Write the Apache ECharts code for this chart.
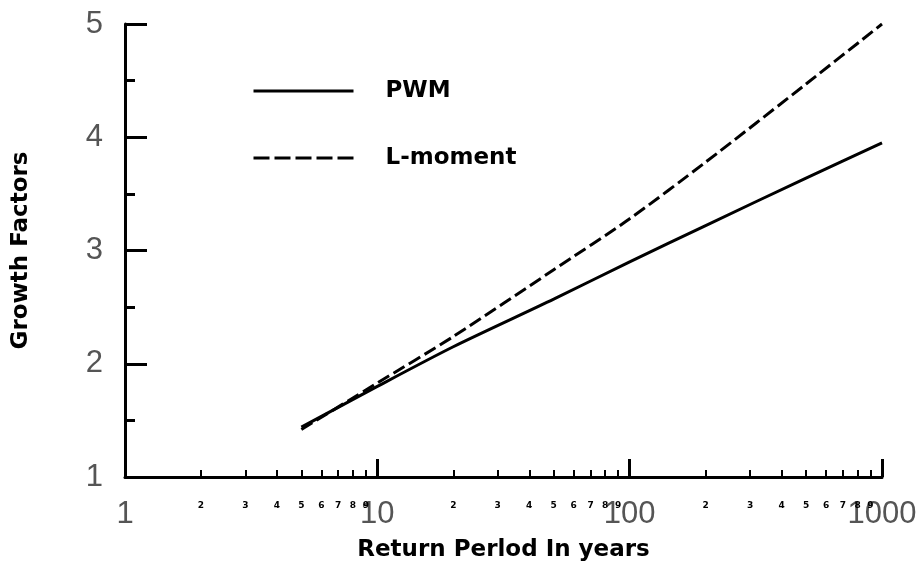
<!DOCTYPE html>
<html>
<head>
<meta charset="utf-8">
<script src="https://cdn.jsdelivr.net/npm/echarts@6/dist/echarts.min.js"></script>
<style>html,body{margin:0;padding:0;background:#fff}#c{width:923px;height:567px}</style>
</head>
<body>
<div id="c"></div>
<script>
var returnPeriods = [5, 10, 20, 50, 100, 200, 500, 1000];
var pwmValues     = [1.44, 1.80, 2.15, 2.57, 2.90, 3.22, 3.64, 3.95];
var lmomValues    = [1.42, 1.83, 2.24, 2.83, 3.28, 3.78, 4.47, 5.00];
var majorTicks = [1, 10, 100, 1000];
var minorTicks = [2,3,4,5,6,7,8,9,20,30,40,50,60,70,80,90,200,300,400,500,600,700,800,900];
var seriesNames = ['PWM', 'L-moment'];

function pairs(xs, ys){ return xs.map(function(x,i){ return [x, ys[i]]; }); }

var chart = echarts.init(document.getElementById('c'));
var bold = {fontFamily:'DejaVu Sans', fontWeight:'bold', fontSize:23, color:'#000'};
chart.setOption({
  animation:false,
  backgroundColor:'#fff',
  grid:{left:125, right:41, top:24, bottom:90},
  legend:{
    left:252, top:79, orient:'vertical', padding:0, itemGap:43,
    itemWidth:100, itemHeight:14,
    itemStyle:{opacity:0},
    textStyle:{fontFamily:'DejaVu Sans', fontWeight:'bold', fontSize:23, color:'#000', lineHeight:24, padding:[0,0,0,27]},
    data:[
      {name:seriesNames[0], lineStyle:{width:3, type:'solid'}},
      {name:seriesNames[1], lineStyle:{width:3, type:[16,5]}}
    ]
  },
  xAxis:[{
    type:'log', logBase:10, min:1, max:1000,
    name:'Return Perlod In years', nameLocation:'middle', nameGap:62,
    nameTextStyle:bold,
    axisLine:{lineStyle:{color:'#000', width:3}},
    axisTick:{inside:true, length:18, customValues:majorTicks, lineStyle:{color:'#000', width:3}},
    axisLabel:{margin:22, customValues:majorTicks, fontFamily:'Liberation Sans', fontSize:31, color:'#555',
      formatter:function(v){ return String(Math.round(v)); }},
    splitLine:{show:false}
  },{
    type:'log', logBase:10, min:1, max:1000, position:'bottom',
    axisLine:{show:false},
    axisTick:{inside:true, length:7, customValues:minorTicks, lineStyle:{color:'#000', width:2}},
    axisLabel:{margin:24, customValues:minorTicks, fontFamily:'DejaVu Sans', fontWeight:'bold', fontSize:9, color:'#000',
      formatter:function(v){ return String(v).charAt(0); }},
    splitLine:{show:false}
  }],
  yAxis:{
    type:'value', min:1, max:5, interval:1,
    name:'Growth Factors', nameLocation:'middle', nameGap:92,
    nameTextStyle:bold,
    axisLine:{show:true, lineStyle:{color:'#000', width:3}},
    axisTick:{show:true, inside:true, length:22, lineStyle:{color:'#000', width:3}},
    minorTick:{show:true, splitNumber:2, length:10, lineStyle:{color:'#000', width:3}},
    axisLabel:{margin:22, fontFamily:'Liberation Sans', fontSize:31, color:'#555'},
    splitLine:{show:false}
  },
  series:[{
    name:seriesNames[0], type:'line', xAxisIndex:0, symbol:'none', smooth:0.25,
    itemStyle:{color:'#000'},
    lineStyle:{color:'#000', width:3, type:'solid'},
    data:pairs(returnPeriods, pwmValues)
  },{
    name:seriesNames[1], type:'line', xAxisIndex:0, symbol:'none', smooth:0.25,
    itemStyle:{color:'#000'},
    lineStyle:{color:'#000', width:3, type:[13,5]},
    data:pairs(returnPeriods, lmomValues)
  }]
});
</script>
</body>
</html>
